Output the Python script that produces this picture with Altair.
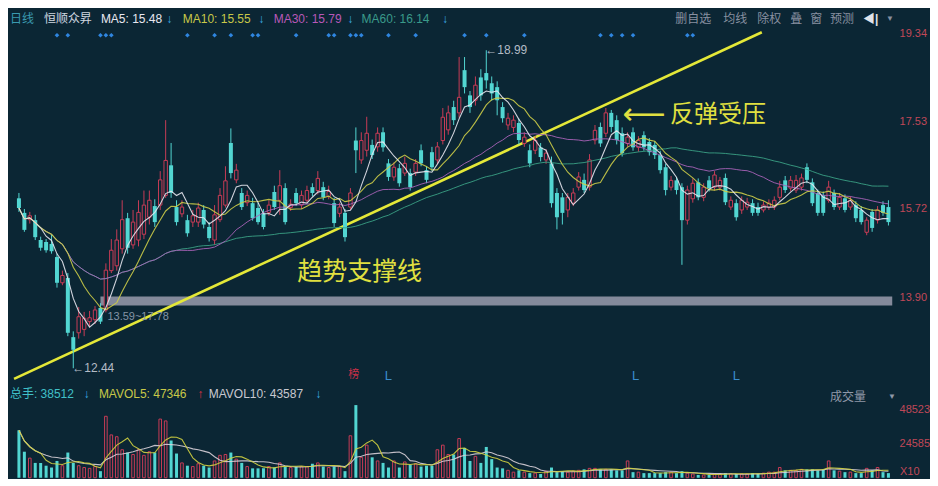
import altair as alt
import pandas as pd

BG = "#0b2634"
UP = "#c83c56"
DOWN = "#52d6d2"
AXIS_RED = "#c04858"
FONT = "Liberation Sans, Noto Sans CJK SC"
CJK = "Noto Sans CJK SC"

opens = [
    15.94, 15.64, 15.50, 15.49, 15.08, 15.04, 15.00, 14.73, 14.20, 14.30,
    13.08, 13.17, 13.24, 13.40, 13.44, 13.68, 13.64, 14.45, 14.55, 14.90,
    15.53, 14.98, 15.08, 15.20, 15.55, 15.78, 15.80, 16.00, 16.62, 15.76,
    15.62, 15.49, 15.45, 15.45, 15.70, 15.35, 15.08, 15.50, 15.80, 17.08,
    16.32, 16.05, 15.85, 15.84, 15.74, 15.64, 15.65, 16.07, 15.90, 16.15,
    15.75, 16.05, 15.80, 15.90, 16.17, 16.10, 16.17, 15.98, 15.84, 15.63,
    15.64, 15.76, 17.13, 16.73, 16.93, 17.04, 17.00, 17.30, 16.66, 16.38,
    16.56, 16.46, 16.46, 16.48, 16.93, 16.52, 16.89, 16.73, 17.13, 17.35,
    17.82, 17.70, 18.58, 18.06, 17.96, 18.43, 18.52, 18.31, 18.23, 17.82,
    17.45, 17.40, 17.49, 17.07, 16.93, 16.93, 16.99, 16.73, 16.66, 16.05,
    15.96, 15.70, 15.84, 16.17, 16.32, 16.17, 17.14, 17.41, 17.28, 17.70,
    17.55, 17.28, 17.07, 17.30, 16.99, 17.24, 17.10, 17.04, 16.83, 16.58,
    16.17, 16.31, 16.17, 15.49, 15.93, 16.27, 15.96, 16.31, 16.17, 16.17,
    16.36, 15.76, 15.84, 15.70, 15.76, 15.84, 15.76, 15.70, 15.76, 15.76,
    15.96, 16.31, 16.15, 16.11, 16.17, 16.58, 16.27, 16.05, 16.00, 15.90,
    16.05, 15.76, 15.94, 15.76, 15.80, 15.70, 15.24, 15.66, 15.49, 15.80,
    15.76,
]
highs = [
    16.05, 15.72, 15.66, 15.60, 15.15, 15.10, 15.20, 14.80, 14.45, 14.40,
    13.20, 13.70, 13.60, 13.62, 13.72, 13.78, 14.60, 15.10, 15.30, 15.90,
    15.64, 15.70, 15.90, 16.10, 16.10, 15.92, 16.50, 17.55, 17.08, 15.90,
    15.90, 15.60, 15.70, 15.85, 15.80, 15.45, 15.80, 16.15, 16.60, 17.38,
    16.65, 16.15, 16.10, 15.95, 15.85, 15.72, 15.90, 16.20, 16.52, 16.25,
    15.92, 16.15, 16.10, 16.20, 16.25, 16.50, 16.28, 16.20, 15.95, 15.85,
    15.72, 16.15, 17.40, 17.30, 17.62, 17.15, 17.40, 17.40, 16.75, 16.68,
    16.65, 16.80, 16.55, 16.75, 17.05, 16.60, 17.00, 17.10, 17.80, 17.85,
    17.95, 18.85, 18.85, 18.15, 18.45, 18.60, 18.99, 18.45, 18.35, 17.92,
    17.70, 17.65, 17.58, 17.30, 17.05, 17.22, 17.08, 16.95, 16.80, 16.15,
    16.05, 16.05, 16.15, 16.48, 16.45, 16.85, 17.45, 17.50, 17.80, 17.76,
    17.65, 17.40, 17.30, 17.40, 17.22, 17.32, 17.18, 17.12, 16.92, 16.65,
    16.40, 16.38, 16.25, 16.20, 16.35, 16.35, 16.25, 16.40, 16.50, 16.38,
    16.45, 15.98, 15.92, 15.98, 15.95, 15.92, 15.85, 15.88, 15.92, 15.98,
    16.30, 16.40, 16.40, 16.42, 16.45, 16.66, 16.35, 16.12, 16.08, 16.30,
    16.12, 16.05, 16.02, 15.98, 15.88, 15.78, 15.55, 15.72, 15.78, 15.88,
    15.90,
]
lows = [
    15.66, 15.25, 15.42, 15.08, 14.86, 14.82, 14.80, 14.10, 14.15, 13.10,
    12.44, 13.05, 13.10, 13.30, 13.35, 13.35, 13.59, 14.40, 14.45, 14.80,
    14.80, 14.90, 14.95, 15.10, 15.40, 15.35, 15.70, 15.95, 15.95, 15.38,
    15.55, 15.15, 15.35, 15.35, 15.32, 15.05, 14.98, 15.45, 15.75, 16.35,
    16.25, 15.70, 15.78, 15.48, 15.40, 15.30, 15.58, 15.70, 15.60, 15.40,
    15.68, 15.78, 15.72, 15.85, 15.98, 16.02, 15.90, 15.92, 15.35, 15.55,
    15.05, 15.70, 16.46, 16.65, 16.80, 16.75, 16.90, 16.90, 16.30, 16.30,
    16.18, 16.40, 16.10, 16.40, 16.60, 16.25, 16.50, 16.65, 17.05, 17.25,
    17.45, 17.60, 18.10, 17.70, 17.85, 17.95, 18.20, 17.95, 17.65, 17.50,
    17.35, 17.30, 17.05, 17.00, 16.58, 16.85, 16.70, 16.65, 15.75, 15.30,
    15.40, 15.55, 15.78, 16.10, 16.05, 16.10, 17.05, 17.00, 17.20, 17.30,
    17.05, 16.80, 17.00, 16.92, 16.90, 16.92, 16.82, 16.75, 16.45, 16.00,
    16.10, 16.02, 14.57, 15.40, 15.85, 15.90, 15.88, 16.08, 16.10, 16.10,
    15.80, 15.70, 15.48, 15.62, 15.70, 15.58, 15.58, 15.65, 15.70, 15.70,
    15.90, 16.05, 16.08, 16.05, 16.10, 16.25, 15.78, 15.58, 15.58, 15.85,
    15.70, 15.70, 15.65, 15.70, 15.45, 15.40, 15.18, 15.25, 15.42, 15.58,
    15.38,
]
closes = [
    15.74, 15.29, 15.58, 15.14, 14.92, 14.87, 14.85, 14.20, 14.35, 13.17,
    12.82, 13.50, 13.47, 13.48, 13.64, 13.40, 14.46, 14.87, 15.08, 15.50,
    14.92, 15.45, 15.65, 15.80, 15.90, 15.45, 16.32, 16.72, 16.05, 15.45,
    15.76, 15.22, 15.58, 15.74, 15.40, 15.12, 15.60, 16.00, 16.30, 16.46,
    16.52, 15.76, 16.00, 15.53, 15.45, 15.35, 15.80, 15.76, 16.20, 15.45,
    15.82, 15.84, 16.00, 16.10, 16.05, 16.35, 15.96, 16.08, 15.43, 15.76,
    15.14, 16.05, 16.93, 17.13, 17.28, 16.83, 17.28, 16.99, 16.38, 16.58,
    16.25, 16.66, 16.17, 16.66, 16.66, 16.32, 16.58, 17.00, 17.61, 17.70,
    17.55, 18.02, 18.23, 17.82, 18.27, 18.06, 18.37, 18.10, 17.96, 17.59,
    17.59, 17.55, 17.14, 17.20, 16.66, 17.13, 16.79, 16.87, 15.84, 15.55,
    15.64, 15.96, 16.05, 16.38, 16.11, 16.73, 17.34, 17.07, 17.70, 17.41,
    17.14, 16.87, 17.20, 16.99, 17.13, 16.99, 16.89, 16.83, 16.52, 16.11,
    16.31, 16.11, 15.49, 16.11, 16.25, 15.96, 16.17, 16.15, 16.42, 16.31,
    15.86, 15.90, 15.55, 15.90, 15.86, 15.64, 15.64, 15.80, 15.84, 15.90,
    16.17, 16.11, 16.31, 16.31, 16.36, 16.32, 15.84, 15.64, 15.64, 16.17,
    15.76, 15.96, 15.70, 15.90, 15.53, 15.45, 15.49, 15.33, 15.70, 15.64,
    15.45,
]
volumes = [
    33900, 18600, 14000, 10600, 10600, 8600, 7300, 12000, 8600, 18000,
    10600, 8600, 7300, 6700, 8000, 4700, 43900, 30600, 29300, 20000,
    18000, 16600, 20000, 16000, 18600, 18000, 41900, 40600, 26600, 17300,
    10600, 8600, 8000, 10000, 8600, 7300, 12000, 16000, 16600, 18000,
    13300, 10600, 8000, 6700, 6700, 6700, 8000, 7300, 10600, 8000,
    7300, 8000, 8000, 8000, 10000, 10600, 8000, 7300, 8000, 8000,
    4700, 30000, 51900, 14600, 23300, 14600, 12000, 10600, 7300, 12000,
    7300, 11300, 9300, 10000, 8000, 8600, 8600, 20000, 23300, 16600,
    16600, 28000, 21300, 12000, 15300, 10600, 22000, 13300, 7300, 6700,
    5300, 4000, 5300, 4000, 3300, 3300, 2700, 4700, 7300, 4000,
    4700, 4000, 4700, 5300, 6000, 6700, 6700, 6000, 6000, 6000,
    5300, 5300, 12000, 4000, 4000, 3300, 3300, 3300, 3300, 4000,
    4000, 3300, 4700, 3300, 2700, 2000, 2000, 2000, 2700, 2700,
    3300, 2700, 2700, 2700, 2700, 3300, 2700, 3300, 4000, 4000,
    7300, 5300, 5300, 5300, 6000, 6000, 6000, 5300, 6000, 12000,
    5300, 4700, 4000, 4000, 3300, 3300, 6700, 5300, 7300, 4000,
    3300,
]

# annotation data
price_ticks = [13.90, 15.72, 17.53, 19.34]
vol_ticks = [48523, 24585]
trend_i = [-0.9, 136.7]
trend_p = [12.22, 19.36]
band_i = [15.0, 160.7]
band_p = [13.73, 13.92]
event_idx = [7, 9, 15, 16, 17, 31, 36, 39, 43, 44, 51, 57, 58, 61, 62, 63,
             68, 73, 82, 86, 93, 107, 109, 111, 113, 123, 124]
l_idx = [68, 113.5, 132]

df = pd.DataFrame({
    "i": list(range(len(closes))),
    "open": opens, "high": highs, "low": lows, "close": closes, "vol": volumes,
})
df["up"] = df["close"] >= df["open"]

X_SCALE = alt.Scale(domain=[-0.909, 166.73], nice=False, zero=False)
P_SCALE = alt.Scale(domain=[12.077, 19.855], nice=False, zero=False)
V_SCALE = alt.Scale(domain=[0, 65650], nice=False, zero=False)

price_axis = alt.Axis(orient="right", offset=-35, values=price_ticks, format=".2f",
                      labelColor=AXIS_RED, labelFontSize=11, labelFont="Liberation Sans",
                      ticks=False, domain=False, grid=False, title=None, labelPadding=4)
vol_axis = alt.Axis(orient="right", offset=-35, values=vol_ticks, format="d",
                    labelColor=AXIS_RED, labelFontSize=11, labelFont="Liberation Sans",
                    ticks=False, domain=False, grid=False, title=None, labelPadding=4)


def X(f):
    return alt.X(f, type="quantitative", scale=X_SCALE, axis=None)


def PY(f):
    return alt.Y(f, type="quantitative", scale=P_SCALE, axis=price_axis)


def VY(f):
    return alt.Y(f, type="quantitative", scale=V_SCALE, axis=vol_axis)


def label(s, x, y, color, size=12, font=FONT, align="left", weight="normal"):
    return alt.Chart(pd.DataFrame({"t": [s]})).mark_text(
        x=x, y=y, color=color, fontSize=size, font=font, align=align,
        baseline="middle", fontWeight=weight
    ).encode(text="t:N")


candle_color = alt.when(alt.datum.up).then(alt.value(UP)).otherwise(alt.value(DOWN))

base = alt.Chart(df)

band = alt.Chart(pd.DataFrame({"i0": [band_i[0]], "i1": [band_i[1]],
                               "p0": [band_p[0]], "p1": [band_p[1]]})).mark_rect(
    color="#9a9cae", opacity=0.85
).encode(x=X("i0"), x2="i1", y=PY("p0"), y2="p1")

wicks = base.mark_rule(strokeWidth=1).encode(
    x=X("i"), y=PY("low"), y2="high", color=candle_color)

down_bodies = base.transform_filter("!datum.up").mark_bar(size=4, color=DOWN).encode(
    x=X("i"), y=PY("open"), y2="close")

up_bodies = base.transform_filter("datum.up").mark_bar(
    size=3.4, fill=BG, stroke=UP, strokeWidth=1
).encode(x=X("i"), y=PY("open"), y2="close")


def ma_line(n, color, width=1.0):
    return base.transform_window(
        ma="mean(close)", frame=[-(n - 1), 0], sort=[alt.SortField("i")]
    ).mark_line(color=color, strokeWidth=width, opacity=0.9).encode(x=X("i"), y=PY("ma:Q"))


ma5 = ma_line(5, "#e6e6ee", 1.1)
ma10 = ma_line(10, "#cccc48", 1.1)
ma30 = ma_line(30, "#a862b8", 1.0)
ma60 = ma_line(60, "#3aa084", 1.0)

trend = alt.Chart(pd.DataFrame({"i": trend_i, "p": trend_p})).mark_line(
    color="#e4e838", strokeWidth=2.6
).encode(x=X("i"), y=PY("p"))

events = alt.Chart(pd.DataFrame({"i": event_idx})).mark_point(
    shape="diamond", filled=True, size=22, color="#2f86e0", opacity=1
).encode(x=X("i"), y=alt.value(27))

l_marks = alt.Chart(pd.DataFrame({"i": l_idx, "t": ["L"] * len(l_idx)})).mark_text(
    color="#3a8ccc", fontSize=13, font=FONT, baseline="middle"
).encode(x=X("i"), y=alt.value(368), text="t:N")

bang = alt.Chart(pd.DataFrame({"i": [61.6], "t": ["榜"]})).mark_text(
    color="#c83048", fontSize=11, font=CJK, baseline="middle"
).encode(x=X("i"), y=alt.value(367), text="t:N")

ann_pts = pd.DataFrame({
    "i": [62.7, 111.1, 119.8, 10, 86, 16.3],
    "p": [14.42, 17.66, 17.65, 12.44, 18.99, 13.50],
    "t": ["趋势支撑线", "⟵", "反弹受压", "←12.44", "←18.99", "13.59~17.78"],
})
ann_big1 = alt.Chart(ann_pts.iloc[[0]]).mark_text(
    color="#e0e040", fontSize=25, font=CJK, align="center", baseline="middle"
).encode(x=X("i"), y=PY("p"), text="t:N")
ann_arrow = alt.Chart(ann_pts.iloc[[1]]).mark_text(
    color="#e0e040", fontSize=30, font="DejaVu Sans", align="left", baseline="middle"
).encode(x=X("i"), y=PY("p"), text="t:N")
ann_big2 = alt.Chart(ann_pts.iloc[[2]]).mark_text(
    color="#e0e040", fontSize=24, font=CJK, align="left", baseline="middle"
).encode(x=X("i"), y=PY("p"), text="t:N")
ann_small = alt.Chart(ann_pts.iloc[[3, 4]]).mark_text(
    color="#b4bcc6", fontSize=12, font=FONT, align="left", baseline="middle", dx=-1
).encode(x=X("i"), y=PY("p"), text="t:N")
ann_range = alt.Chart(ann_pts.iloc[[5]]).mark_text(
    color="#8494a6", fontSize=11, font=FONT, align="left", baseline="middle"
).encode(x=X("i"), y=PY("p"), text="t:N")

header = [
    label("日线", 1, 11, "#3a9ab0"),
    label("恒顺众昇", 35, 11, "#d0d8e0"),
    label("MA5: 15.48", 92, 11, "#e8e8f0"),
    label("↓", 158, 11, "#3aa8e0"),
    label("MA10: 15.55", 174, 11, "#c8c848"),
    label("↓", 250, 11, "#3aa8e0"),
    label("MA30: 15.79", 265, 11, "#b858b8"),
    label("↓", 339, 11, "#3aa8e0"),
    label("MA60: 16.14", 353, 11, "#3a9a8a"),
    label("↓", 434, 11, "#3aa8e0"),
    label("删自选", 667, 11, "#8890a0"),
    label("均线", 715, 11, "#8890a0"),
    label("除权", 749, 11, "#8890a0"),
    label("叠", 782, 11, "#8890a0"),
    label("窗", 802, 11, "#8890a0"),
    label("预测", 822, 11, "#8890a0"),
    label("◀|", 855, 11, "#e0e4ea", weight="bold"),
    label("▼", 878, 11, "#8890a0", size=8),
]

price = alt.layer(
    band, trend, wicks, down_bodies, up_bodies, ma60, ma30, ma10, ma5,
    events, l_marks, bang, ann_big1, ann_arrow, ann_big2, ann_small, ann_range,
    *header
).properties(width=922, height=378)

vol_down = base.transform_filter("!datum.up").mark_bar(size=3, color=DOWN).encode(
    x=X("i"), y=VY("vol"))
vol_up = base.transform_filter("datum.up").mark_bar(
    size=2.6, fill=BG, stroke=UP, strokeWidth=1
).encode(x=X("i"), y=VY("vol"))


def vol_ma(n, color):
    return base.transform_window(
        m="mean(vol)", frame=[-(n - 1), 0], sort=[alt.SortField("i")]
    ).mark_line(color=color, strokeWidth=1.1, opacity=0.9).encode(x=X("i"), y=VY("m:Q"))


vheader = [
    label("总手: 38512", 1, 8, "#40c0c8"),
    label("↓", 75, 8, "#3aa8e0"),
    label("MAVOL5: 47346", 90, 8, "#c8c848"),
    label("↑", 189, 8, "#e03040"),
    label("MAVOL10: 43587", 200, 8, "#c8c8d0"),
    label("↓", 307, 8, "#3aa8e0"),
    label("成交量", 822, 11, "#9098a8"),
    label("▼", 880, 11, "#9098a8", size=8),
    label("X10", 892, 86, AXIS_RED, size=11),
]

vol = alt.layer(
    vol_down, vol_up, vol_ma(10, "#d8d0d8"), vol_ma(5, "#d0d040"), *vheader
).properties(width=922, height=92)

chart = alt.vconcat(price, vol, spacing=0, bounds="flush").properties(
    padding=0, background=BG
).configure_view(strokeWidth=0)

chart.save("out.html", embed_options={"renderer": "svg", "actions": False})
